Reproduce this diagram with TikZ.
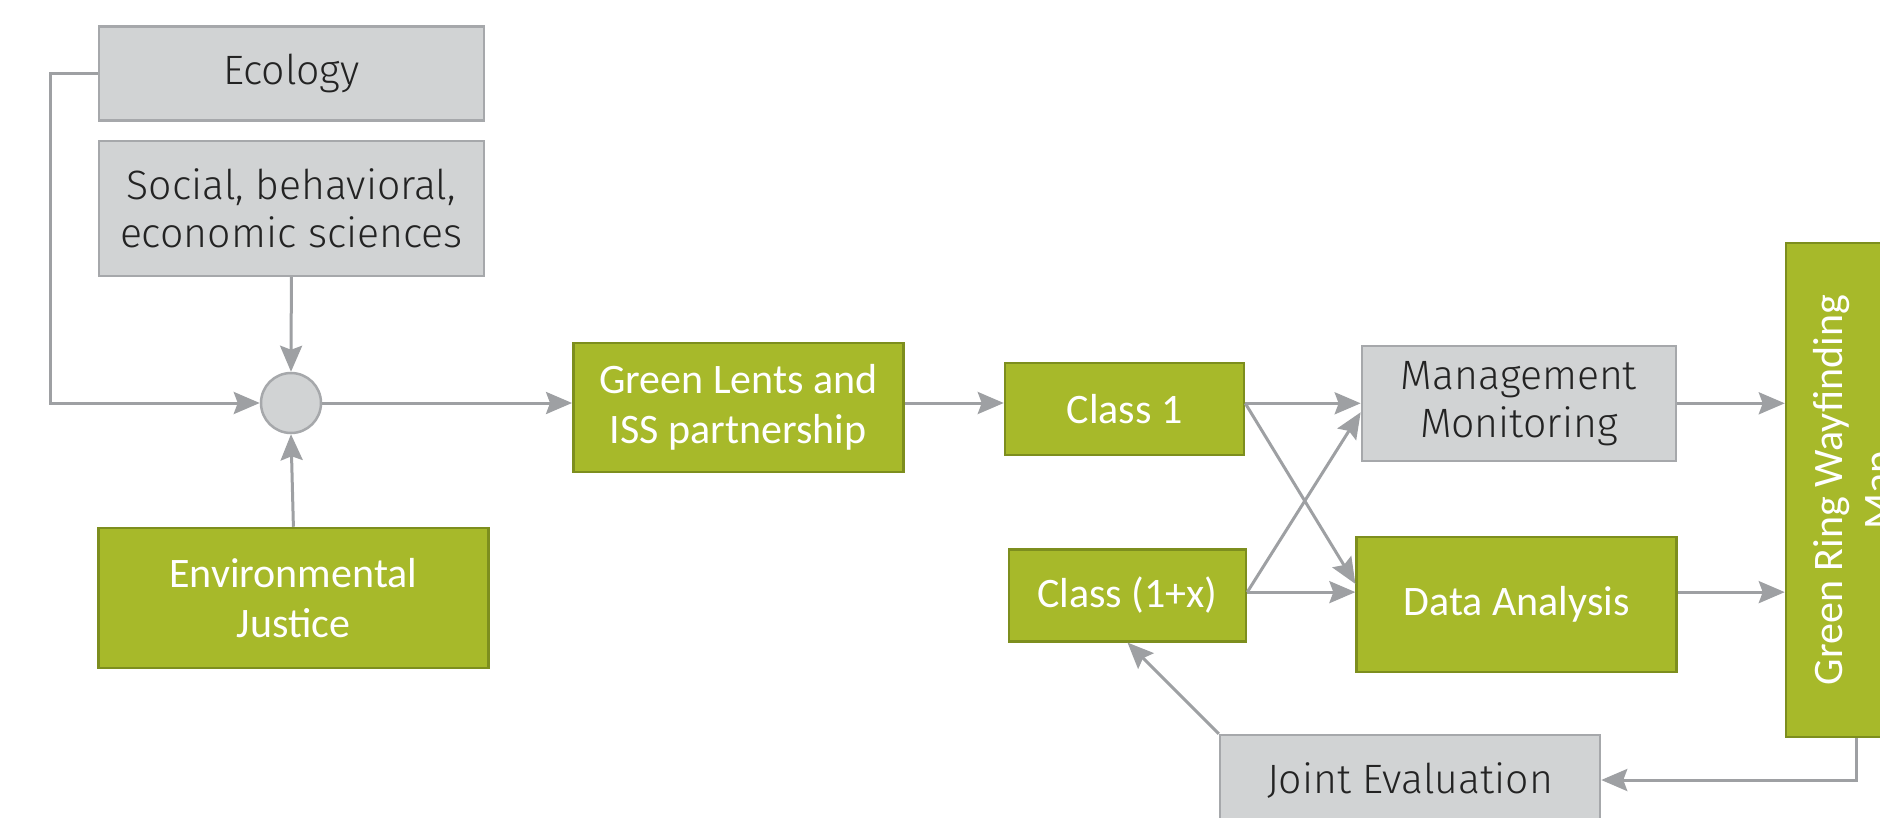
\documentclass[tikz,border=0pt]{standalone}
\usepackage{fontspec}
\usetikzlibrary{arrows.meta,calc}
\newfontfamily\grayfont{Fira Sans Light}
\newfontfamily\greenfont{Carlito}
\definecolor{greenfill}{RGB}{167,185,42}
\definecolor{greenborder}{RGB}{125,142,30}
\definecolor{grayfill}{RGB}{209,211,212}
\definecolor{grayborder}{RGB}{166,168,171}
\definecolor{graytext}{RGB}{35,35,35}
\definecolor{linegray}{RGB}{158,160,163}
\tikzset{
  graybox/.style={draw=grayborder, fill=grayfill, line width=2.5pt, text=graytext,
    font=\grayfont\fontsize{41}{48}\selectfont, align=center, inner sep=0pt},
  greenbox/.style={draw=greenborder, fill=greenfill, line width=2.5pt, text=white,
    font=\greenfont\fontsize{42}{50}\selectfont, align=center, inner sep=0pt},
  conn/.style={draw=linegray, line width=3pt},
  arr/.style={conn, -{Stealth[length=26pt,width=22pt,inset=4pt]}}
}
\begin{document}
\begin{tikzpicture}[x=1pt,y=-1pt]
\useasboundingbox (0,0) rectangle (1880,817);
\clip (0,0) rectangle (1880,817);
\fill[white] (0,0) rectangle (1880,817);

\node[graybox, minimum width=385pt, minimum height=94pt] (eco) at (291.4,73.7) {Ecology};
\node[graybox, minimum width=385pt, minimum height=135pt] (soc) at (291.4,208.3) {Social, behavioral,\\economic sciences};
\node[circle, draw=grayborder, fill=grayfill, line width=2.5pt, minimum size=60pt, inner sep=0pt] (circ) at (291,403) {};
\node[greenbox, minimum width=390pt, minimum height=140pt] (ej) at (293.4,598) {Environmental\\Justice};
\node[greenbox, minimum width=330pt, minimum height=129pt] (gl) at (738.3,407.4) {Green Lents and\\ISS partnership};
\node[greenbox, minimum width=239pt, minimum height=92pt] (c1) at (1124.5,409) {Class 1};
\node[greenbox, minimum width=237pt, minimum height=92pt] (c1x) at (1127.5,595.3) {Class (1+x)};
\node[graybox, minimum width=314pt, minimum height=115pt] (mm) at (1518.9,403.3) {Management\\Monitoring};
\node[greenbox, minimum width=320pt, minimum height=135pt] (da) at (1516.6,604.5) {Data Analysis};
\node[greenbox, rotate=90, minimum width=494pt, minimum height=140pt] (gr) at (1856,490) {Green Ring Wayfinding\\Map};
\node[graybox, minimum width=380pt, minimum height=90pt] (je) at (1410,780) {Joint Evaluation};

% left inputs
\coordinate (bend) at (50,73.7);
\draw[arr] (eco.west) -- (bend) |- (circ.west);
\draw[arr] (soc.south) -- (circ.north);
\draw[arr] (ej.north) -- (circ.south);
\draw[arr] (circ.east) -- (gl.west |- circ.east);
\draw[arr] (gl.east |- circ.east) -- (c1.west |- circ.east);

% classes to outputs
\coordinate (dain) at ($(da.north west)!0.41!(da.south west)$);
\coordinate (dadiag) at ($(da.north west)!0.35!(da.south west)$);
\coordinate (mmdiag) at ($(mm.west)+(0,-9pt)$);
\draw[arr] (c1.east |- mm.west) -- (mm.west);
\draw[arr] (c1.east |- mm.west) -- (dadiag);
\draw[arr] (c1x.east |- dain) -- (dain);
\draw[arr] (c1x.east |- dain) -- (mmdiag);

% outputs to map
\draw[arr] (mm.east) -- (gr.north |- mm.east);
\draw[arr] (da.east |- dain) -- (gr.north |- dain);

% feedback
\draw[arr] (gr.west) |- (je.east);
\draw[arr] (je.north west) -- (c1x.south);
\end{tikzpicture}
\end{document}
